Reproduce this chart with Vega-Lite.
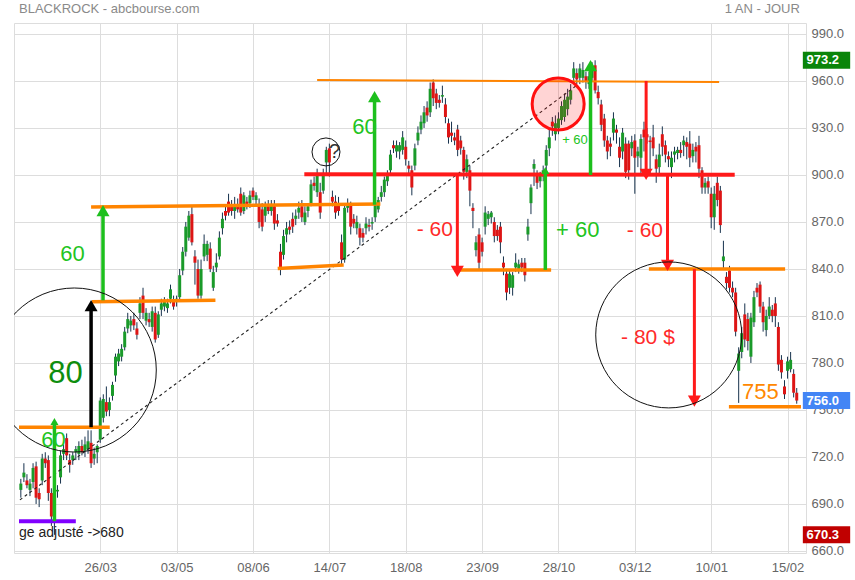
{
"$schema":"https://vega.github.io/schema/vega-lite/v6.json",
"width":792,"height":530,
"autosize":{"type":"none"},
"padding":{"left":14,"top":23,"right":49,"bottom":27},
"background":"#ffffff",
"config":{"view":{"stroke":"#dddddd","strokeWidth":1},"font":"Liberation Sans","text":{"font":"Liberation Sans"}},
"datasets":{
"candles":[
{"i":0,"o":699,"h":706,"l":694,"c":703},{"i":1,"o":707,"h":716,"l":704,"c":710},{"i":2,"o":705,"h":709,"l":700,"c":702},{"i":3,"o":699,"h":706,"l":695,"c":703},{"i":4,"o":704,"h":716,"l":700,"c":713},{"i":5,"o":714,"h":717,"l":690,"c":694},{"i":6,"o":697,"h":700,"l":688,"c":693},{"i":7,"o":705,"h":722,"l":702,"c":719},{"i":8,"o":719,"h":723,"l":713,"c":716},{"i":9,"o":718,"h":721,"l":692,"c":697},
{"i":10,"o":697,"h":700,"l":676,"c":682},{"i":11,"o":683,"h":702,"l":670.3,"c":700},{"i":12,"o":698,"h":702,"l":694,"c":699},{"i":13,"o":707,"h":724,"l":703,"c":721},{"i":14,"o":722,"h":728,"l":718,"c":725},{"i":15,"o":732,"h":735,"l":718,"c":721},{"i":16,"o":718,"h":722,"l":710,"c":715},{"i":17,"o":718,"h":723,"l":715,"c":721},{"i":18,"o":723,"h":727,"l":718,"c":725},{"i":19,"o":722,"h":730,"l":718,"c":727},
{"i":20,"o":727,"h":731,"l":721,"c":723},{"i":21,"o":724,"h":733,"l":720,"c":728},{"i":22,"o":725,"h":737,"l":722,"c":730},{"i":23,"o":729,"h":737,"l":713,"c":716},{"i":24,"o":719,"h":726,"l":715,"c":722},{"i":25,"o":723,"h":728,"l":716,"c":727},{"i":26,"o":731,"h":758,"l":729,"c":756},{"i":27,"o":745,"h":760,"l":742,"c":757},{"i":28,"o":755,"h":765,"l":746,"c":749},{"i":29,"o":750,"h":758,"l":746,"c":755},
{"i":30,"o":759,"h":768,"l":756,"c":766},{"i":31,"o":772,"h":786,"l":768,"c":784},{"i":32,"o":781,"h":789,"l":778,"c":786},{"i":33,"o":784,"h":792,"l":781,"c":789},{"i":34,"o":790,"h":803,"l":788,"c":800},{"i":35,"o":802,"h":812,"l":799,"c":808},{"i":36,"o":804,"h":810,"l":800,"c":807},{"i":37,"o":808,"h":812,"l":801,"c":804},{"i":38,"o":802,"h":806,"l":795,"c":798},{"i":39,"o":812,"h":822,"l":808,"c":818},
{"i":40,"o":823,"h":828,"l":808,"c":812},{"i":41,"o":807,"h":815,"l":804,"c":812},{"i":42,"o":808,"h":812,"l":803,"c":806},{"i":43,"o":803,"h":816,"l":800,"c":813},{"i":44,"o":812,"h":816,"l":793,"c":795},{"i":45,"o":798,"h":813,"l":796,"c":811},{"i":46,"o":814,"h":821,"l":810,"c":818},{"i":47,"o":816,"h":822,"l":813,"c":819},{"i":48,"o":815,"h":821,"l":812,"c":818},{"i":49,"o":821,"h":830,"l":818,"c":827},
{"i":50,"o":819,"h":823,"l":814,"c":816},{"i":51,"o":819,"h":823,"l":816,"c":821},{"i":52,"o":822,"h":840,"l":820,"c":836},{"i":53,"o":839,"h":854,"l":836,"c":851},{"i":54,"o":851,"h":870,"l":848,"c":867},{"i":55,"o":860,"h":877,"l":858,"c":874},{"i":56,"o":875,"h":880,"l":855,"c":857},{"i":57,"o":848,"h":852,"l":830,"c":844},{"i":58,"o":840,"h":846,"l":821,"c":823},{"i":59,"o":823,"h":846,"l":821,"c":840},
{"i":60,"o":848,"h":862,"l":845,"c":856},{"i":61,"o":849,"h":858,"l":845,"c":856},{"i":62,"o":853,"h":857,"l":838,"c":840},{"i":63,"o":828,"h":842,"l":826,"c":838},{"i":64,"o":841,"h":850,"l":838,"c":844},{"i":65,"o":848,"h":864,"l":846,"c":860},{"i":66,"o":866,"h":876,"l":862,"c":872},{"i":67,"o":877,"h":880,"l":871,"c":874},{"i":68,"o":883,"h":888,"l":874,"c":876},{"i":69,"o":880,"h":884,"l":874,"c":877},
{"i":70,"o":877,"h":886,"l":872,"c":881},{"i":71,"o":881,"h":885,"l":876,"c":878},{"i":72,"o":888,"h":892,"l":874,"c":876},{"i":73,"o":877,"h":889,"l":875,"c":887},{"i":74,"o":883,"h":886,"l":878,"c":880},{"i":75,"o":882,"h":890,"l":879,"c":887},{"i":76,"o":890,"h":892,"l":884,"c":886},{"i":77,"o":884,"h":889,"l":880,"c":887},{"i":78,"o":881,"h":885,"l":866,"c":870},{"i":79,"o":878,"h":882,"l":864,"c":867},
{"i":80,"o":874,"h":883,"l":870,"c":880},{"i":81,"o":881,"h":884,"l":875,"c":877},{"i":82,"o":877,"h":884,"l":874,"c":881},{"i":83,"o":880,"h":884,"l":865,"c":869},{"i":84,"o":871,"h":875,"l":867,"c":869},{"i":85,"o":851,"h":856,"l":836,"c":841},{"i":86,"o":849,"h":865,"l":846,"c":861},{"i":87,"o":862,"h":870,"l":857,"c":866},{"i":88,"o":867,"h":871,"l":862,"c":865},{"i":89,"o":872,"h":876,"l":863,"c":867},
{"i":90,"o":872,"h":878,"l":868,"c":874},{"i":91,"o":876,"h":883,"l":872,"c":879},{"i":92,"o":880,"h":884,"l":870,"c":873},{"i":93,"o":870,"h":880,"l":868,"c":876},{"i":94,"o":877,"h":882,"l":873,"c":880},{"i":95,"o":882,"h":897,"l":880,"c":894},{"i":96,"o":895,"h":899,"l":890,"c":893},{"i":97,"o":889,"h":904,"l":886,"c":900},{"i":98,"o":889,"h":895,"l":872,"c":876},{"i":99,"o":890,"h":904,"l":888,"c":900},
{"i":100,"o":908,"h":918,"l":900,"c":916},{"i":101,"o":917,"h":920,"l":899,"c":908},{"i":102,"o":886,"h":890,"l":880,"c":883},{"i":103,"o":883,"h":887,"l":872,"c":876},{"i":104,"o":882,"h":886,"l":874,"c":877},{"i":105,"o":857,"h":862,"l":843,"c":846},{"i":106,"o":846,"h":882,"l":844,"c":879},{"i":107,"o":879,"h":885,"l":876,"c":882},{"i":108,"o":881,"h":883,"l":862,"c":867},{"i":109,"o":872,"h":875,"l":866,"c":869},
{"i":110,"o":866,"h":874,"l":862,"c":870},{"i":111,"o":866,"h":869,"l":855,"c":860},{"i":112,"o":863,"h":866,"l":857,"c":860},{"i":113,"o":866,"h":873,"l":862,"c":869},{"i":114,"o":868,"h":872,"l":864,"c":867},{"i":115,"o":869,"h":873,"l":865,"c":870},{"i":116,"o":873,"h":884,"l":870,"c":881},{"i":117,"o":878,"h":886,"l":876,"c":884},{"i":118,"o":886,"h":893,"l":883,"c":889},{"i":119,"o":889,"h":899,"l":886,"c":897},
{"i":120,"o":896,"h":903,"l":893,"c":900},{"i":121,"o":903,"h":916,"l":900,"c":913},{"i":122,"o":919,"h":922,"l":914,"c":917},{"i":123,"o":915,"h":922,"l":911,"c":919},{"i":124,"o":915,"h":921,"l":910,"c":919},{"i":125,"o":916,"h":928,"l":913,"c":924},{"i":126,"o":918,"h":922,"l":906,"c":910},{"i":127,"o":906,"h":909,"l":900,"c":904},{"i":128,"o":903,"h":906,"l":887,"c":892},{"i":129,"o":906,"h":920,"l":903,"c":917},
{"i":130,"o":922,"h":931,"l":919,"c":927},{"i":131,"o":929,"h":938,"l":926,"c":934},{"i":132,"o":933,"h":944,"l":930,"c":940},{"i":133,"o":943,"h":947,"l":934,"c":938},{"i":134,"o":940,"h":959,"l":937,"c":955},{"i":135,"o":959,"h":961,"l":944,"c":949},{"i":136,"o":952,"h":955,"l":942,"c":946},{"i":137,"o":948,"h":951,"l":943,"c":946},{"i":138,"o":950,"h":957,"l":946,"c":951},{"i":139,"o":945,"h":949,"l":933,"c":937},
{"i":140,"o":933,"h":936,"l":920,"c":924},{"i":141,"o":927,"h":934,"l":921,"c":925},{"i":142,"o":924,"h":927,"l":919,"c":922},{"i":143,"o":929,"h":932,"l":912,"c":916},{"i":144,"o":922,"h":925,"l":913,"c":917},{"i":145,"o":916,"h":918,"l":897,"c":902},{"i":146,"o":902,"h":913,"l":898,"c":910},{"i":147,"o":903,"h":906,"l":880,"c":890},{"i":148,"o":879,"h":882,"l":866,"c":877},{"i":149,"o":852,"h":861,"l":848,"c":857},
{"i":150,"o":862,"h":866,"l":840,"c":844},{"i":151,"o":857,"h":860,"l":848,"c":851},{"i":152,"o":867,"h":880,"l":862,"c":876},{"i":153,"o":872,"h":877,"l":868,"c":875},{"i":154,"o":873,"h":877,"l":869,"c":876},{"i":155,"o":870,"h":873,"l":857,"c":861},{"i":156,"o":865,"h":868,"l":858,"c":861},{"i":157,"o":867,"h":870,"l":850,"c":857},{"i":158,"o":844,"h":848,"l":836,"c":841},{"i":159,"o":837,"h":840,"l":820,"c":825},
{"i":160,"o":828,"h":840,"l":824,"c":837},{"i":161,"o":828,"h":838,"l":823,"c":836},{"i":162,"o":841,"h":850,"l":838,"c":844},{"i":163,"o":840,"h":846,"l":837,"c":843},{"i":164,"o":844,"h":847,"l":838,"c":841},{"i":165,"o":844,"h":847,"l":832,"c":836},{"i":166,"o":862,"h":872,"l":858,"c":867},{"i":167,"o":882,"h":894,"l":875,"c":892},{"i":168,"o":904,"h":910,"l":893,"c":907},{"i":169,"o":900,"h":903,"l":891,"c":895},
{"i":170,"o":896,"h":902,"l":892,"c":900},{"i":171,"o":899,"h":906,"l":896,"c":903},{"i":172,"o":906,"h":919,"l":902,"c":916},{"i":173,"o":917,"h":930,"l":912,"c":924},{"i":174,"o":934,"h":937,"l":925,"c":931},{"i":175,"o":926,"h":938,"l":922,"c":933},{"i":176,"o":930,"h":940,"l":926,"c":936},{"i":177,"o":935,"h":947,"l":932,"c":944},{"i":178,"o":937,"h":952,"l":934,"c":948},{"i":179,"o":942,"h":955,"l":938,"c":950},
{"i":180,"o":948,"h":958,"l":945,"c":954},{"i":181,"o":962,"h":972,"l":958,"c":968},{"i":182,"o":965,"h":968,"l":958,"c":961},{"i":183,"o":962,"h":971,"l":958,"c":968},{"i":184,"o":962,"h":972,"l":959,"c":967},{"i":185,"o":963,"h":966,"l":955,"c":960},{"i":186,"o":958,"h":966,"l":955,"c":963},{"i":187,"o":962,"h":972,"l":960,"c":969},{"i":188,"o":970,"h":973.2,"l":952,"c":954},{"i":189,"o":953,"h":957,"l":945,"c":949},
{"i":190,"o":945,"h":948,"l":928,"c":932},{"i":191,"o":936,"h":939,"l":918,"c":922},{"i":192,"o":922,"h":925,"l":910,"c":915},{"i":193,"o":920,"h":924,"l":912,"c":918},{"i":194,"o":927,"h":940,"l":922,"c":936},{"i":195,"o":929,"h":932,"l":920,"c":927},{"i":196,"o":918,"h":924,"l":905,"c":911},{"i":197,"o":915,"h":930,"l":910,"c":927},{"i":198,"o":920,"h":924,"l":898,"c":902},{"i":199,"o":920,"h":922,"l":897,"c":903},
{"i":200,"o":917,"h":925,"l":912,"c":921},{"i":201,"o":922,"h":926,"l":888,"c":911},{"i":202,"o":912,"h":918,"l":905,"c":915},{"i":203,"o":911,"h":926,"l":900,"c":923},{"i":204,"o":929,"h":934,"l":915,"c":924},{"i":205,"o":926,"h":930,"l":920,"c":924},{"i":206,"o":922,"h":925,"l":900,"c":921},{"i":207,"o":924,"h":932,"l":912,"c":917},{"i":208,"o":910,"h":913,"l":895,"c":904},{"i":209,"o":905,"h":920,"l":900,"c":913},
{"i":210,"o":926,"h":931,"l":912,"c":918},{"i":211,"o":919,"h":922,"l":908,"c":913},{"i":212,"o":912,"h":915,"l":905,"c":910},{"i":213,"o":905,"h":915,"l":898,"c":911},{"i":214,"o":913,"h":918,"l":908,"c":915},{"i":215,"o":914,"h":918,"l":910,"c":916},{"i":216,"o":916,"h":921,"l":911,"c":914},{"i":217,"o":919,"h":925,"l":912,"c":922},{"i":218,"o":921,"h":924,"l":910,"c":918},{"i":219,"o":920,"h":928,"l":905,"c":911},
{"i":220,"o":912,"h":920,"l":908,"c":916},{"i":221,"o":918,"h":921,"l":908,"c":915},{"i":222,"o":919,"h":925,"l":898,"c":904},{"i":223,"o":903,"h":905,"l":888,"c":892},{"i":224,"o":892,"h":898,"l":888,"c":895},{"i":225,"o":896,"h":899,"l":888,"c":892},{"i":226,"o":888,"h":892,"l":866,"c":873},{"i":227,"o":873,"h":893,"l":865,"c":888},{"i":228,"o":895,"h":899,"l":880,"c":884},{"i":229,"o":890,"h":893,"l":863,"c":868},
{"i":230,"o":845,"h":858,"l":840,"c":848},{"i":231,"o":835,"h":838,"l":827,"c":831},{"i":232,"o":839,"h":842,"l":825,"c":828},{"i":233,"o":828,"h":832,"l":822,"c":825},{"i":234,"o":825,"h":828,"l":797,"c":800},{"i":235,"o":775,"h":790,"l":754.5,"c":786},{"i":236,"o":787,"h":803,"l":783,"c":799},{"i":237,"o":811,"h":818,"l":790,"c":795},{"i":238,"o":808,"h":812,"l":788,"c":794},{"i":239,"o":784,"h":812,"l":780,"c":809},
{"i":240,"o":806,"h":826,"l":803,"c":822},{"i":241,"o":828,"h":831,"l":822,"c":825},{"i":242,"o":830,"h":832,"l":812,"c":816},{"i":243,"o":816,"h":819,"l":800,"c":806},{"i":244,"o":801,"h":814,"l":797,"c":810},{"i":245,"o":810,"h":822,"l":808,"c":816},{"i":246,"o":814,"h":817,"l":806,"c":810},{"i":247,"o":818,"h":822,"l":803,"c":810},{"i":248,"o":803,"h":806,"l":775,"c":779},{"i":249,"o":782,"h":785,"l":770,"c":774},
{"i":250,"o":765,"h":769,"l":757,"c":760},{"i":251,"o":775,"h":784,"l":770,"c":781},{"i":252,"o":776,"h":787,"l":774,"c":782},{"i":253,"o":773,"h":776,"l":758,"c":761},{"i":254,"o":761,"h":764,"l":754,"c":756}
],
"lines":[
{"k":"o","x1":-0.6,"y1":738.9,"x2":29.1,"y2":738.9},
{"k":"o","x1":23.3,"y1":819,"x2":63.7,"y2":820},
{"k":"o","x1":23.0,"y1":879.6,"x2":117.7,"y2":881.5},
{"k":"o","x1":84.1,"y1":840.3,"x2":105.7,"y2":842.5},
{"k":"o","x1":141.9,"y1":839.4,"x2":173.6,"y2":839.4},
{"k":"o","x1":205.6,"y1":839.9,"x2":250.2,"y2":839.9},
{"k":"o","x1":231.8,"y1":752.0,"x2":255.4,"y2":752.0},
{"k":"ot","x1":97,"y1":960.6,"x2":228.6,"y2":959.4},
{"k":"r","x1":92.8,"y1":900.4,"x2":233.7,"y2":900.2},
{"k":"p","x1":-0.6,"y1":679,"x2":18,"y2":679},
{"k":"d","x1":-0.3,"y1":692.6,"x2":181.7,"y2":956.8}
],
"arrows":[
{"k":"gs","x":11.0,"y1":679,"y2":742.6},
{"k":"g","x":26.9,"y1":820,"y2":877.3},
{"k":"g","x":115.8,"y1":881,"y2":950.0},
{"k":"gs","x":171.7,"y1":839.4,"y2":902.9},
{"k":"g","x":186.5,"y1":900,"y2":969.8},
{"k":"k","x":23.0,"y1":739,"y2":816.6},
{"k":"r","x":142.9,"y1":900,"y2":838.5},
{"k":"r","x":204.7,"y1":960,"y2":900.4},
{"k":"r","x":211.7,"y1":900,"y2":842.3},
{"k":"r","x":220.5,"y1":839.9,"y2":755.6}
],
"circles":[
{"n":"L","x":17.5,"y":775.5},
{"n":"R","x":212.1,"y":797.9},
{"n":"Q","x":99.9,"y":914.7},
{"n":"P","x":175.9,"y":945.3}
],
"texts":[
{"t":"80","x":14.6,"y":773,"s":"g80"},
{"t":"60","x":10.7,"y":731,"s":"g"},
{"t":"60","x":16.9,"y":849.6,"s":"g"},
{"t":"60","x":112.5,"y":930.6,"s":"g"},
{"t":"+ 60","x":182.3,"y":864.9,"s":"g"},
{"t":"+ 60","x":181.4,"y":922.3,"s":"gs"},
{"t":"- 60","x":135.5,"y":864.9,"s":"r"},
{"t":"- 60","x":204.3,"y":864.3,"s":"r"},
{"t":"- 80 $","x":205.3,"y":796,"s":"r"},
{"t":"755","x":242.1,"y":761.5,"s":"o"},
{"t":"?","x":102.7,"y":914.7,"s":"q"},
{"t":"ge adjusté ->680","x":-0.6,"y":671.5,"s":"k"}
],
"boxes":[
{"t":"973.2","v":973.2,"k":"g"},
{"t":"756.0","v":756.0,"k":"b"},
{"t":"670.3","v":670.3,"k":"r"}
],
"hdr":[
{"t":"BLACKROCK - abcbourse.com","x":-0.6,"y":1006,"a":"l"},
{"t":"1 AN - JOUR","x":255.0,"y":1006,"a":"r"}
]
},
"layer":[
{"data":{"name":"candles"},"mark":{"type":"rule","color":"#17324d","strokeWidth":1},
 "encoding":{
  "x":{"field":"i","type":"quantitative","scale":{"domain":[-0.6,255.4],"nice":false,"zero":false},
   "axis":{"title":null,"values":[26,51,76,101,126,151,176,201,226,251],"labelExpr":"['26/03','03/05','08/06','14/07','18/08','23/09','28/10','03/12','10/01','15/02'][round((datum.value-26)/25)]","grid":true,"gridColor":"#dddddd","ticks":false,"domain":false,"labelColor":"#666666","labelFontSize":13,"labelFont":"Liberation Sans","labelPadding":8,"labelFlush":false}},
  "y":{"field":"l","type":"quantitative","scale":{"domain":[658.7,997],"nice":false,"zero":false},
   "axis":{"title":null,"orient":"right","values":[660,690,720,750,780,810,840,870,900,930,960,990],"format":".1f","grid":true,"gridColor":"#dddddd","ticks":false,"domain":false,"labelColor":"#666666","labelFontSize":13,"labelFont":"Liberation Sans","labelPadding":5,"labelFlush":false,"labelOverlap":false}},
  "y2":{"field":"h"}}},
{"data":{"name":"candles"},"mark":{"type":"bar","size":3},
 "encoding":{"x":{"field":"i","type":"quantitative"},"y":{"field":"o","type":"quantitative"},"y2":{"field":"c"},
  "color":{"condition":{"test":"datum.c>=datum.o","value":"#1a9a2a"},"value":"#dd1515"}}},
{"data":{"name":"lines"},"transform":[{"filter":"datum.k=='d'"}],"mark":{"type":"rule","color":"#222222","strokeWidth":1.1,"strokeDash":[3,3]},
 "encoding":{"x":{"field":"x1","type":"quantitative"},"x2":{"field":"x2"},"y":{"field":"y1","type":"quantitative"},"y2":{"field":"y2"}}},
{"data":{"name":"lines"},"transform":[{"filter":"datum.k=='o'"}],"mark":{"type":"rule","color":"#ff8400","strokeWidth":3.5},
 "encoding":{"x":{"field":"x1","type":"quantitative"},"x2":{"field":"x2"},"y":{"field":"y1","type":"quantitative"},"y2":{"field":"y2"}}},
{"data":{"name":"lines"},"transform":[{"filter":"datum.k=='ot'"}],"mark":{"type":"rule","color":"#ff8400","strokeWidth":2},
 "encoding":{"x":{"field":"x1","type":"quantitative"},"x2":{"field":"x2"},"y":{"field":"y1","type":"quantitative"},"y2":{"field":"y2"}}},
{"data":{"name":"lines"},"transform":[{"filter":"datum.k=='r'"}],"mark":{"type":"rule","color":"#ff1a1a","strokeWidth":4},
 "encoding":{"x":{"field":"x1","type":"quantitative"},"x2":{"field":"x2"},"y":{"field":"y1","type":"quantitative"},"y2":{"field":"y2"}}},
{"data":{"name":"lines"},"transform":[{"filter":"datum.k=='p'"}],"mark":{"type":"rule","color":"#8000ff","strokeWidth":4},
 "encoding":{"x":{"field":"x1","type":"quantitative"},"x2":{"field":"x2"},"y":{"field":"y1","type":"quantitative"},"y2":{"field":"y2"}}},
{"data":{"name":"arrows"},"transform":[{"filter":"datum.k=='g'||datum.k=='gs'"}],"mark":{"type":"rule","color":"#1dbf1d","strokeWidth":3.5},
 "encoding":{"x":{"field":"x","type":"quantitative"},"y":{"field":"y1","type":"quantitative"},"y2":{"field":"y2"}}},
{"data":{"name":"arrows"},"transform":[{"filter":"datum.k=='k'"}],"mark":{"type":"rule","color":"#000000","strokeWidth":3.5},
 "encoding":{"x":{"field":"x","type":"quantitative"},"y":{"field":"y1","type":"quantitative"},"y2":{"field":"y2"}}},
{"data":{"name":"arrows"},"transform":[{"filter":"datum.k=='r'"}],"mark":{"type":"rule","color":"#ff1a1a","strokeWidth":3},
 "encoding":{"x":{"field":"x","type":"quantitative"},"y":{"field":"y1","type":"quantitative"},"y2":{"field":"y2"}}},
{"data":{"name":"arrows"},"transform":[{"filter":"datum.k=='g'"}],"mark":{"type":"point","shape":"triangle-up","size":169,"filled":true,"color":"#1dbf1d","opacity":1},
 "encoding":{"x":{"field":"x","type":"quantitative"},"y":{"field":"y2","type":"quantitative"}}},
{"data":{"name":"arrows"},"transform":[{"filter":"datum.k=='gs'"}],"mark":{"type":"point","shape":"triangle-up","size":64,"filled":true,"color":"#1dbf1d","opacity":1},
 "encoding":{"x":{"field":"x","type":"quantitative"},"y":{"field":"y2","type":"quantitative"}}},
{"data":{"name":"arrows"},"transform":[{"filter":"datum.k=='k'"}],"mark":{"type":"point","shape":"triangle-up","size":169,"filled":true,"color":"#000000","opacity":1},
 "encoding":{"x":{"field":"x","type":"quantitative"},"y":{"field":"y2","type":"quantitative"}}},
{"data":{"name":"arrows"},"transform":[{"filter":"datum.k=='r'"}],"mark":{"type":"point","shape":"triangle-down","size":169,"filled":true,"color":"#ff1a1a","opacity":1},
 "encoding":{"x":{"field":"x","type":"quantitative"},"y":{"field":"y2","type":"quantitative"}}},
{"data":{"name":"circles"},"transform":[{"filter":"datum.n=='L'"}],"mark":{"type":"point","shape":"circle","size":26896,"filled":false,"stroke":"#111111","strokeWidth":1,"opacity":1,"clip":true},
 "encoding":{"x":{"field":"x","type":"quantitative"},"y":{"field":"y","type":"quantitative"}}},
{"data":{"name":"circles"},"transform":[{"filter":"datum.n=='R'"}],"mark":{"type":"point","shape":"circle","size":21316,"filled":false,"stroke":"#111111","strokeWidth":1,"opacity":1},
 "encoding":{"x":{"field":"x","type":"quantitative"},"y":{"field":"y","type":"quantitative"}}},
{"data":{"name":"circles"},"transform":[{"filter":"datum.n=='Q'"}],"mark":{"type":"point","shape":"circle","size":784,"filled":false,"stroke":"#111111","strokeWidth":1,"opacity":1},
 "encoding":{"x":{"field":"x","type":"quantitative"},"y":{"field":"y","type":"quantitative"}}},
{"data":{"name":"circles"},"transform":[{"filter":"datum.n=='P'"}],"mark":{"type":"point","shape":"circle","size":2704,"filled":true,"fill":"#ff0000","fillOpacity":0.17,"stroke":"#ff1010","strokeWidth":3,"strokeOpacity":1,"opacity":1},
 "encoding":{"x":{"field":"x","type":"quantitative"},"y":{"field":"y","type":"quantitative"}}},
{"data":{"name":"texts"},"transform":[{"filter":"datum.s=='g80'"}],"mark":{"type":"text","color":"#0e8e0e","fontSize":31,"baseline":"middle","align":"center"},
 "encoding":{"x":{"field":"x","type":"quantitative"},"y":{"field":"y","type":"quantitative"},"text":{"field":"t"}}},
{"data":{"name":"texts"},"transform":[{"filter":"datum.s=='g'"}],"mark":{"type":"text","color":"#22c422","fontSize":22,"baseline":"middle","align":"center"},
 "encoding":{"x":{"field":"x","type":"quantitative"},"y":{"field":"y","type":"quantitative"},"text":{"field":"t"}}},
{"data":{"name":"texts"},"transform":[{"filter":"datum.s=='gs'"}],"mark":{"type":"text","color":"#22c422","fontSize":13,"baseline":"middle","align":"center"},
 "encoding":{"x":{"field":"x","type":"quantitative"},"y":{"field":"y","type":"quantitative"},"text":{"field":"t"}}},
{"data":{"name":"texts"},"transform":[{"filter":"datum.s=='r'"}],"mark":{"type":"text","color":"#ff2a2a","fontSize":21,"baseline":"middle","align":"center"},
 "encoding":{"x":{"field":"x","type":"quantitative"},"y":{"field":"y","type":"quantitative"},"text":{"field":"t"}}},
{"data":{"name":"texts"},"transform":[{"filter":"datum.s=='o'"}],"mark":{"type":"text","color":"#ff8800","fontSize":22,"baseline":"middle","align":"center"},
 "encoding":{"x":{"field":"x","type":"quantitative"},"y":{"field":"y","type":"quantitative"},"text":{"field":"t"}}},
{"data":{"name":"texts"},"transform":[{"filter":"datum.s=='q'"}],"mark":{"type":"text","color":"#333333","fontSize":20,"baseline":"middle","align":"center"},
 "encoding":{"x":{"field":"x","type":"quantitative"},"y":{"field":"y","type":"quantitative"},"text":{"field":"t"}}},
{"data":{"name":"texts"},"transform":[{"filter":"datum.s=='k'"}],"mark":{"type":"text","color":"#222222","fontSize":14,"baseline":"middle","align":"left"},
 "encoding":{"x":{"field":"x","type":"quantitative"},"y":{"field":"y","type":"quantitative"},"text":{"field":"t"}}},
{"data":{"name":"boxes"},"transform":[{"calculate":"datum.v-5.4","as":"lo"},{"calculate":"datum.v+5.4","as":"hi"}],"mark":{"type":"rect"},
 "encoding":{"x":{"datum":256.0,"type":"quantitative"},"x2":{"datum":271.5},"y":{"field":"lo","type":"quantitative"},"y2":{"field":"hi"},
  "color":{"field":"k","type":"nominal","scale":{"domain":["g","b","r"],"range":["#0a850a","#4385f5","#c00000"]},"legend":null}}},
{"data":{"name":"boxes"},"mark":{"type":"text","color":"#ffffff","fontSize":13,"fontWeight":"bold","baseline":"middle","align":"left"},
 "encoding":{"x":{"datum":257.2,"type":"quantitative"},"y":{"field":"v","type":"quantitative"},"text":{"field":"t"}}},
{"data":{"name":"hdr"},"transform":[{"filter":"datum.a=='l'"}],"mark":{"type":"text","color":"#8a8a8a","fontSize":13,"baseline":"middle","align":"left"},
 "encoding":{"x":{"field":"x","type":"quantitative"},"y":{"field":"y","type":"quantitative"},"text":{"field":"t"}}},
{"data":{"name":"hdr"},"transform":[{"filter":"datum.a=='r'"}],"mark":{"type":"text","color":"#8a8a8a","fontSize":13,"baseline":"middle","align":"right"},
 "encoding":{"x":{"field":"x","type":"quantitative"},"y":{"field":"y","type":"quantitative"},"text":{"field":"t"}}}
]
}
